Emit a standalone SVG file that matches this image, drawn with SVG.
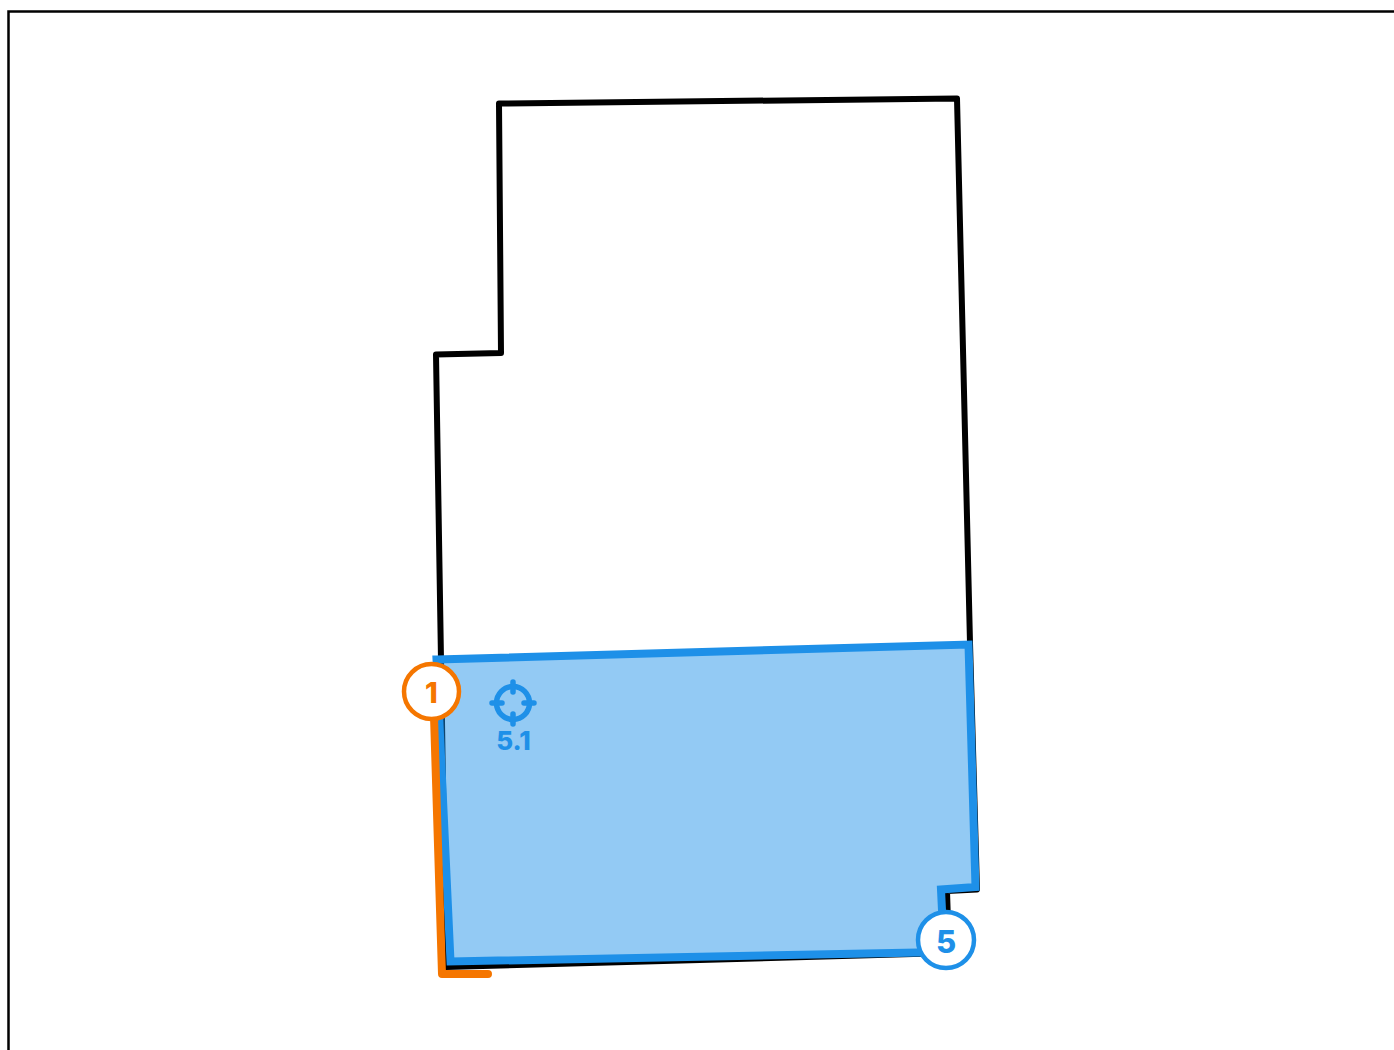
<svg xmlns="http://www.w3.org/2000/svg" width="1394" height="1050" viewBox="0 0 1394 1050">
  <style>
    .lbl { font-family: "Inter", "Liberation Sans", sans-serif; font-weight: 800; text-anchor: middle; }
    .blue { fill: #1e90e8; }
    .orange { fill: #f57600; }
  </style>
  <rect width="1394" height="1050" fill="#ffffff"/>
  <path id="frame" d="M8.5 1050V11.5H1394" fill="none" stroke="#000000" stroke-width="2.5"/>
  <path id="outline" d="M499 103.5L957 98.5L970 643L977 889.5L947 891L949 953L446 967L441 660L436 354.5L501 353Z" fill="none" stroke="#000000" stroke-width="6" stroke-linejoin="round"/>
  <path id="zone" d="M436.5 659.5L968.5 644.5L975.5 887L941 889.5L944 952L450.5 961.5Z" fill="#1e90e8" fill-opacity="0.48" stroke="#1e90e8" stroke-width="8" stroke-linejoin="miter"/>
  <path id="wall" d="M434 716L442 974H488" fill="none" stroke="#f57600" stroke-width="8" stroke-linejoin="round" stroke-linecap="round"/>
  <g id="target" fill="none" stroke="#1e90e8">
    <circle cx="513" cy="703" r="16.5" stroke-width="5.5"/>
    <path d="M513 682V692M513 714V724M492 703H502M524 703H534" stroke-width="5.5" stroke-linecap="round"/>
    <text class="lbl blue" x="513.5" y="750" font-size="26" stroke="none">5.1</text>
  </g>
  <g id="node-1">
    <circle cx="431.5" cy="691.5" r="27.5" fill="#ffffff" stroke="#f57600" stroke-width="4.5"/>
    <text class="lbl orange" x="431.5" y="703" font-size="29">1</text>
  </g>
  <g id="node-5">
    <circle cx="946" cy="940" r="28" fill="#ffffff" stroke="#1e90e8" stroke-width="4.5"/>
    <text class="lbl blue" x="946" y="952.5" font-size="31">5</text>
  </g>
</svg>
